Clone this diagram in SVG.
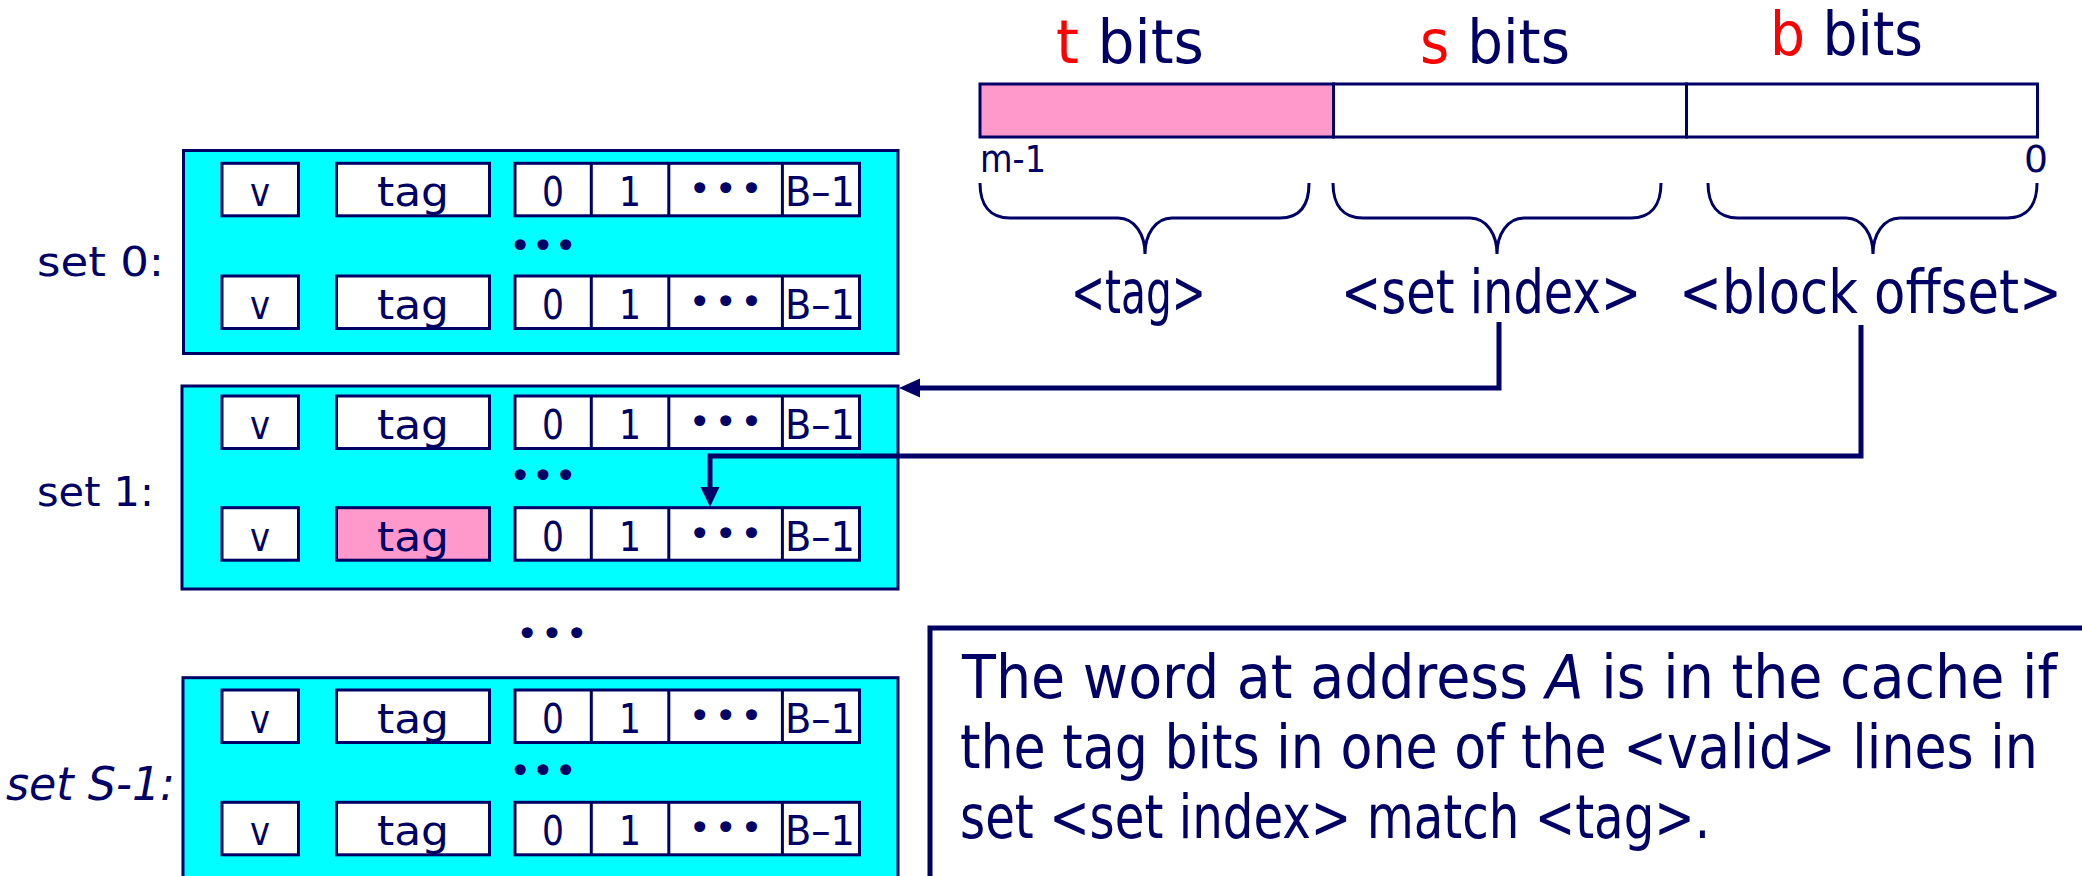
<svg xmlns="http://www.w3.org/2000/svg" xmlns:xlink="http://www.w3.org/1999/xlink" width="2082" height="876" viewBox="0 0 2082 876">
<style>
.t { font-family: "DejaVu Sans", "Liberation Sans", sans-serif; fill: #000066; }
.setbox { fill: #00ffff; stroke: #000066; stroke-width: 3; }
.conn { fill: none; stroke: #000066; stroke-width: 5; }
.brace { fill: none; stroke: #000066; stroke-width: 3; }
.red { fill: #ff0000; }
</style>
<defs>
<g id="line">
  <rect x="222" y="0" width="76.5" height="52.5" fill="#ffffff" stroke="#000066" stroke-width="3"/>
  <rect x="336.5" y="0" width="153" height="52.5" stroke="#000066" stroke-width="3"/>
  <rect x="515" y="0" width="344.5" height="52.5" fill="#ffffff" stroke="#000066" stroke-width="3"/>
  <line x1="591.3" y1="0" x2="591.3" y2="52.5" stroke="#000066" stroke-width="3"/>
  <line x1="668.8" y1="0" x2="668.8" y2="52.5" stroke="#000066" stroke-width="3"/>
  <line x1="782.4" y1="0" x2="782.4" y2="52.5" stroke="#000066" stroke-width="3"/>
  <g font-family="DejaVu Sans, Liberation Sans, sans-serif" font-size="41" fill="#000066" text-anchor="middle">
    <text x="260" y="43" textLength="20" lengthAdjust="spacingAndGlyphs">v</text>
    <text x="413" y="43" textLength="72" lengthAdjust="spacingAndGlyphs">tag</text>
    <text x="553" y="43" textLength="22" lengthAdjust="spacingAndGlyphs">0</text>
    <text x="630" y="43" textLength="22" lengthAdjust="spacingAndGlyphs">1</text>
    <text x="725.6" y="39" font-size="38" textLength="74" lengthAdjust="spacing">•••</text>
    <text x="820" y="43" textLength="70" lengthAdjust="spacingAndGlyphs">B–1</text>
  </g>
</g>
</defs>

<g id="set0">
  <rect class="setbox" x="183.5" y="150.5" width="714.5" height="203"/>
  <use xlink:href="#line" y="163.3" fill="#ffffff"/>
  <text class="t" x="543" y="259" font-size="38" text-anchor="middle" textLength="68" lengthAdjust="spacing">•••</text>
  <use xlink:href="#line" y="276" fill="#ffffff"/>
  <text class="t" x="37" y="276" font-size="40" textLength="127" lengthAdjust="spacingAndGlyphs">set 0:</text>
</g>

<g id="set1">
  <rect class="setbox" x="182" y="386" width="716" height="203"/>
  <use xlink:href="#line" y="396" fill="#ffffff"/>
  <text class="t" x="543" y="489" font-size="38" text-anchor="middle" textLength="68" lengthAdjust="spacing">•••</text>
  <use xlink:href="#line" y="507.7" fill="#ff99cc"/>
  <text class="t" x="37" y="506" font-size="40" textLength="117" lengthAdjust="spacingAndGlyphs">set 1:</text>
</g>

<g id="sets-dots">
  <text class="t" x="552" y="647" font-size="38" text-anchor="middle" textLength="72" lengthAdjust="spacing">•••</text>
</g>

<g id="setS">
  <rect class="setbox" x="183" y="677.7" width="715" height="215"/>
  <use xlink:href="#line" y="690" fill="#ffffff"/>
  <text class="t" x="543" y="784" font-size="38" text-anchor="middle" textLength="68" lengthAdjust="spacing">•••</text>
  <use xlink:href="#line" y="802.3" fill="#ffffff"/>
  <text class="t" x="6" y="800" font-size="46" font-style="italic" textLength="169" lengthAdjust="spacingAndGlyphs">set S-1:</text>
</g>

<g id="address">
  <rect x="980" y="84" width="353.5" height="53" fill="#ff99cc" stroke="#000066" stroke-width="3"/>
  <rect x="1333.5" y="84" width="353" height="53" fill="#ffffff" stroke="#000066" stroke-width="3"/>
  <rect x="1686.5" y="84" width="351" height="53" fill="#ffffff" stroke="#000066" stroke-width="3"/>
  <text class="t" x="1056" y="63" font-size="60" textLength="148" lengthAdjust="spacingAndGlyphs"><tspan class="red">t</tspan> bits</text>
  <text class="t" x="1420" y="63" font-size="60" textLength="150" lengthAdjust="spacingAndGlyphs"><tspan class="red">s</tspan> bits</text>
  <text class="t" x="1770" y="55" font-size="60" textLength="153" lengthAdjust="spacingAndGlyphs"><tspan class="red">b</tspan> bits</text>
  <text class="t" x="980" y="172" font-size="38" textLength="66" lengthAdjust="spacingAndGlyphs">m-1</text>
  <text class="t" x="2024" y="172" font-size="38" textLength="24" lengthAdjust="spacingAndGlyphs">0</text>
</g>

<g id="fields">
  <path class="brace" d="M980,183 C980,205 990,218 1010,218 L1118,218 C1135,218 1145,235 1145,254 C1145,235 1155,218 1172,218 L1280,218 C1300,218 1309,205 1309,183"/>
  <path class="brace" d="M1333,183 C1333,205 1343,218 1363,218 L1470,218 C1487,218 1497,235 1497,254 C1497,235 1507,218 1524,218 L1631,218 C1651,218 1661,205 1661,183"/>
  <path class="brace" d="M1708,183 C1708,205 1718,218 1738,218 L1846,218 C1863,218 1873,235 1873,254 C1873,235 1883,218 1900,218 L2007,218 C2027,218 2037,205 2037,183"/>
  <text class="t" transform="translate(1071,313) scale(0.678,1)" font-size="60" textLength="199" lengthAdjust="spacingAndGlyphs">&lt;tag&gt;</text>
  <text class="t" transform="translate(1341,313) scale(0.797,1)" font-size="60" textLength="376.5" lengthAdjust="spacingAndGlyphs">&lt;set index&gt;</text>
  <text class="t" transform="translate(1679,313) scale(0.852,1)" font-size="60" textLength="449.5" lengthAdjust="spacingAndGlyphs">&lt;block offset&gt;</text>
</g>

<g id="note">
  <rect x="930" y="628" width="1200" height="300" fill="#ffffff" stroke="#000066" stroke-width="5"/>
  <text class="t" transform="translate(962,698) scale(0.922,1)" font-size="60" textLength="1187.6" lengthAdjust="spacingAndGlyphs">The word at address <tspan font-style="italic">A</tspan> is in the cache if</text>
  <text class="t" transform="translate(960,768) scale(0.870,1)" font-size="60" textLength="1239" lengthAdjust="spacingAndGlyphs">the tag bits in one of the &lt;valid&gt; lines in</text>
  <text class="t" transform="translate(960,838) scale(0.804,1)" font-size="60" textLength="933" lengthAdjust="spacingAndGlyphs">set &lt;set index&gt; match &lt;tag&gt;.</text>
</g>

<g id="connectors">
  <path class="conn" d="M1499,322 V388 H917"/>
  <polygon points="899,388 920,378.5 920,397.5" fill="#000066"/>
  <path class="conn" d="M1861,325 V456 H710 V490"/>
  <polygon points="710,507 700.5,487 719.5,487" fill="#000066"/>
</g>
</svg>
